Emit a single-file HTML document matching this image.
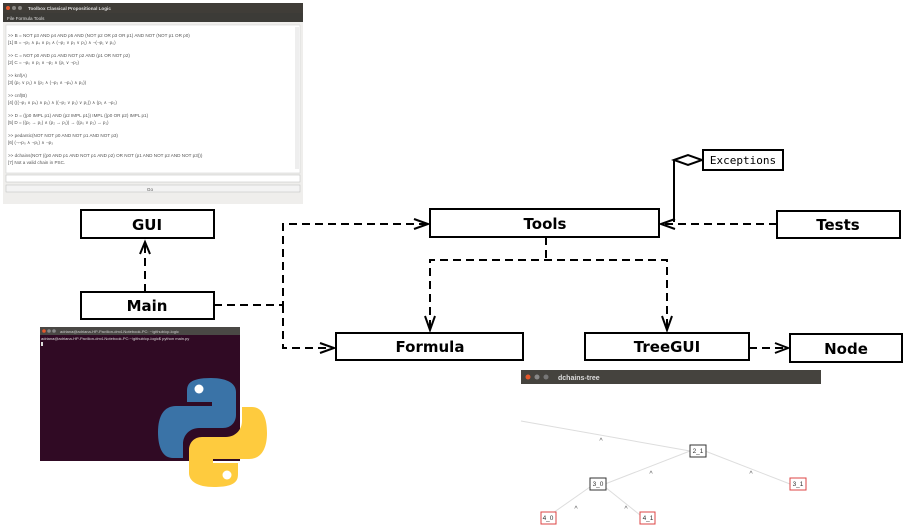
<!DOCTYPE html>
<html><head><meta charset="utf-8"><style>
html,body{margin:0;padding:0;background:#fff;width:905px;height:530px;overflow:hidden}
svg{display:block}
.b{font-family:"DejaVu Sans","Liberation Sans",sans-serif;font-weight:bold;font-size:15px}
.s{font-family:"Liberation Sans",sans-serif;font-size:4.6px;fill:#555}
</style></head><body>
<svg width="905" height="530" viewBox="0 0 905 530" xmlns="http://www.w3.org/2000/svg">
<!-- GUI screenshot -->
<rect x="3" y="3" width="300" height="201" fill="#efeeec"/>
<rect x="3" y="3" width="300" height="10" fill="#403d38"/>
<circle cx="8" cy="8" r="2" fill="#e5572b"/><circle cx="14" cy="8" r="2" fill="#8a8884"/><circle cx="20" cy="8" r="2" fill="#8a8884"/>
<text x="28" y="10" class="s" style="fill:#ddd;font-weight:bold">Toolbox Classical Propositional Logic</text>
<rect x="3" y="13" width="300" height="9" fill="#3c3b37"/>
<text x="7" y="20" class="s" style="fill:#ddd">File   Formula   Tools</text>
<rect x="6" y="25" width="294" height="148" fill="#fff" stroke="#ccc" stroke-width="0.5"/>
<rect x="295" y="27" width="4" height="142" fill="#eee"/>
<text class="s"><tspan x="8" y="37">&gt;&gt; B = NOT p3 AND p4 AND p5 AND (NOT p2 OR p3 OR p1) AND NOT (NOT p1 OR p0)</tspan><tspan x="8" y="44">[1]  B = ¬p₃ ∧ p₄ ∧ p₅ ∧ (¬p₂ ∨ p₃ ∨ p₁) ∧ ¬(¬p₁ ∨ p₀)</tspan>
<tspan x="8" y="57">&gt;&gt; C = NOT p0 AND p1 AND NOT p2 AND (p1 OR NOT p2)</tspan><tspan x="8" y="64">[2]  C = ¬p₀ ∧ p₁ ∧ ¬p₂ ∧ (p₁ ∨ ¬p₂)</tspan>
<tspan x="8" y="77">&gt;&gt; knf(A)</tspan><tspan x="8" y="84">[3]  (p₀ ∨ p₁) ∧ (p₂ ∧ (¬p₃ ∧ ¬p₄) ∧ p₅))</tspan>
<tspan x="8" y="97">&gt;&gt; cnf(B)</tspan><tspan x="8" y="104">[4]  (((¬p₃ ∧ p₄) ∧ p₅) ∧ ((¬p₂ ∨ p₃) ∨ p₁)) ∧ (p₁ ∧ ¬p₀)</tspan>
<tspan x="8" y="117">&gt;&gt; D = ((p0 IMPL p1) AND (p2 IMPL p1)) IMPL ((p0 OR p2) IMPL p1)</tspan><tspan x="8" y="124">[5]  D = ((p₀ → p₁) ∧ (p₂ → p₁)) → ((p₀ ∨ p₂) → p₁)</tspan>
<tspan x="8" y="137">&gt;&gt; pedantic(NOT NOT p0 AND NOT p1 AND NOT p3)</tspan><tspan x="8" y="144">[6]  (¬¬p₀ ∧ ¬p₁) ∧ ¬p₃</tspan>
<tspan x="8" y="157">&gt;&gt; dchains(NOT ((p0 AND p1 AND NOT p1 AND p2) OR NOT (p1 AND NOT p2 AND NOT p3)))</tspan><tspan x="8" y="164">[7]  Not a valid chain in PSC.</tspan></text>
<rect x="6" y="175" width="294" height="7" fill="#fff" stroke="#bbb" stroke-width="0.5"/>
<rect x="6" y="185" width="294" height="7" fill="#f3f3f3" stroke="#bbb" stroke-width="0.5"/>
<text x="150" y="191" class="s" text-anchor="middle">Go</text>

<!-- Terminal -->
<rect x="40" y="327" width="200" height="134" fill="#300a24"/>
<rect x="40" y="327" width="200" height="8" fill="#4a4845"/>
<circle cx="44" cy="331" r="1.8" fill="#e5572b"/><circle cx="49" cy="331" r="1.8" fill="#888"/><circle cx="54" cy="331" r="1.8" fill="#888"/>
<text x="60" y="333" class="s" style="fill:#ccc;font-size:4px">adriana@adriana-HP-Pavilion-dm4-Notebook-PC: ~/github/cp-logic</text>
<text x="41" y="340" class="s" style="fill:#ddd;font-size:4px">adriana@adriana-HP-Pavilion-dm4-Notebook-PC:~/github/cp-logic$ python main.py</text>
<rect x="41" y="342" width="2" height="4" fill="#ddd"/>
<!-- Python logo -->
<g>
<path d="M211 378 c-24 0 -24 8 -24 14 v10 h25 v4 h-36 c-12 0 -18 10 -18 26 c0 16 5 26 15 26 h10 v-14 c0 -9 7 -16 16 -16 h24 c8 0 13 -6 13 -13 v-23 c0 -8 -8 -14 -25 -14 z" fill="#3a73a7"/>
<circle cx="199" cy="389" r="4.5" fill="#fff"/>
<path d="M214 487 c24 0 24 -8 24 -14 v-10 h-25 v-4 h36 c12 0 18 -10 18 -26 c0 -16 -5 -26 -15 -26 h-10 v14 c0 9 -7 16 -16 16 h-24 c-8 0 -13 6 -13 13 v23 c0 8 8 14 25 14 z" fill="#fecb3e"/>
<circle cx="227" cy="475" r="4.5" fill="#fff"/>
</g>

<!-- Tree window -->
<rect x="521" y="370" width="300" height="14" fill="#45433e"/>
<circle cx="528" cy="377" r="2.5" fill="#e5572b"/><circle cx="537" cy="377" r="2.5" fill="#888"/><circle cx="546" cy="377" r="2.5" fill="#777"/>
<text x="558" y="380" class="s" style="fill:#ddd;font-size:7px;font-weight:bold">dchains-tree</text>
<g stroke="#ddd" stroke-width="1">
<line x1="521" y1="421" x2="690" y2="451"/><line x1="690" y1="451" x2="605" y2="484"/><line x1="705" y1="451" x2="790" y2="484"/>
<line x1="590" y1="487" x2="550" y2="515"/><line x1="605" y1="487" x2="640" y2="515"/>
</g>
<g font-family="Liberation Sans,sans-serif" font-size="7" fill="#555" text-anchor="middle">
<text x="601" y="443">^</text><text x="651" y="476">^</text><text x="751" y="476">^</text><text x="576" y="511">^</text><text x="626" y="511">^</text>
</g>
<g font-family="Liberation Sans,sans-serif" font-size="6.5" fill="#333" text-anchor="middle">
<rect x="690" y="445" width="16" height="12" fill="#fff" stroke="#333"/><text x="698" y="453">2_1</text>
<rect x="590" y="478" width="16" height="12" fill="#fff" stroke="#333"/><text x="598" y="486">3_0</text>
<rect x="790" y="478" width="16" height="12" fill="#fff" stroke="#d44"/><text x="798" y="486">3_1</text>
<rect x="541" y="512" width="15" height="12" fill="#fff" stroke="#d44"/><text x="548" y="520">4_0</text>
<rect x="640" y="512" width="15" height="12" fill="#fff" stroke="#d44"/><text x="648" y="520">4_1</text>
</g>

<!-- Connectors -->
<g stroke="#000" stroke-width="2" fill="none" stroke-dasharray="8,5">
<line x1="145" y1="292" x2="145" y2="243"/>
<path d="M214 305 H283 V224 H428"/>
<path d="M283 305 V348 H334"/>
<path d="M546 237 V260"/>
<path d="M430 328 V260 H667 V328"/>
<line x1="777" y1="224" x2="662" y2="224"/>
<line x1="749" y1="348" x2="788" y2="348"/>
</g>
<g stroke="#000" stroke-width="2" fill="none">
<path d="M140 254 L145 242 L150 254"/>
<path d="M414 219 L428 224 L414 229"/>
<path d="M320 343 L334 348 L320 353"/>
<path d="M425 316 L430 330 L435 316"/>
<path d="M662 316 L667 330 L672 316"/>
<path d="M675 219 L661 224 L675 229"/>
<path d="M775 343 L788 348 L775 353"/>
<line x1="674" y1="160" x2="674" y2="222"/>
<path d="M674 160 L688 155 L702 160 L688 165 Z" fill="#fff"/>
</g>

<!-- Boxes -->
<g stroke="#000" stroke-width="2" fill="#fff">
<rect x="81" y="210" width="133" height="28"/>
<rect x="81" y="292" width="133" height="27"/>
<rect x="430" y="209" width="229" height="28"/>
<rect x="777" y="211" width="123" height="27"/>
<rect x="336" y="333" width="187" height="27"/>
<rect x="585" y="333" width="164" height="27"/>
<rect x="790" y="334" width="112" height="28"/>
<rect x="703" y="150" width="80" height="20"/>
</g>
<g class="b" text-anchor="middle">
<text x="147" y="230">GUI</text>
<text x="147" y="311">Main</text>
<text x="545" y="229">Tools</text>
<text x="838" y="230">Tests</text>
<text x="430" y="352">Formula</text>
<text x="667" y="352">TreeGUI</text>
<text x="846" y="354">Node</text>
</g>
<text x="743" y="164" font-family="DejaVu Sans Mono,Liberation Mono,monospace" font-size="11" text-anchor="middle">Exceptions</text>
</svg>
</body></html>
